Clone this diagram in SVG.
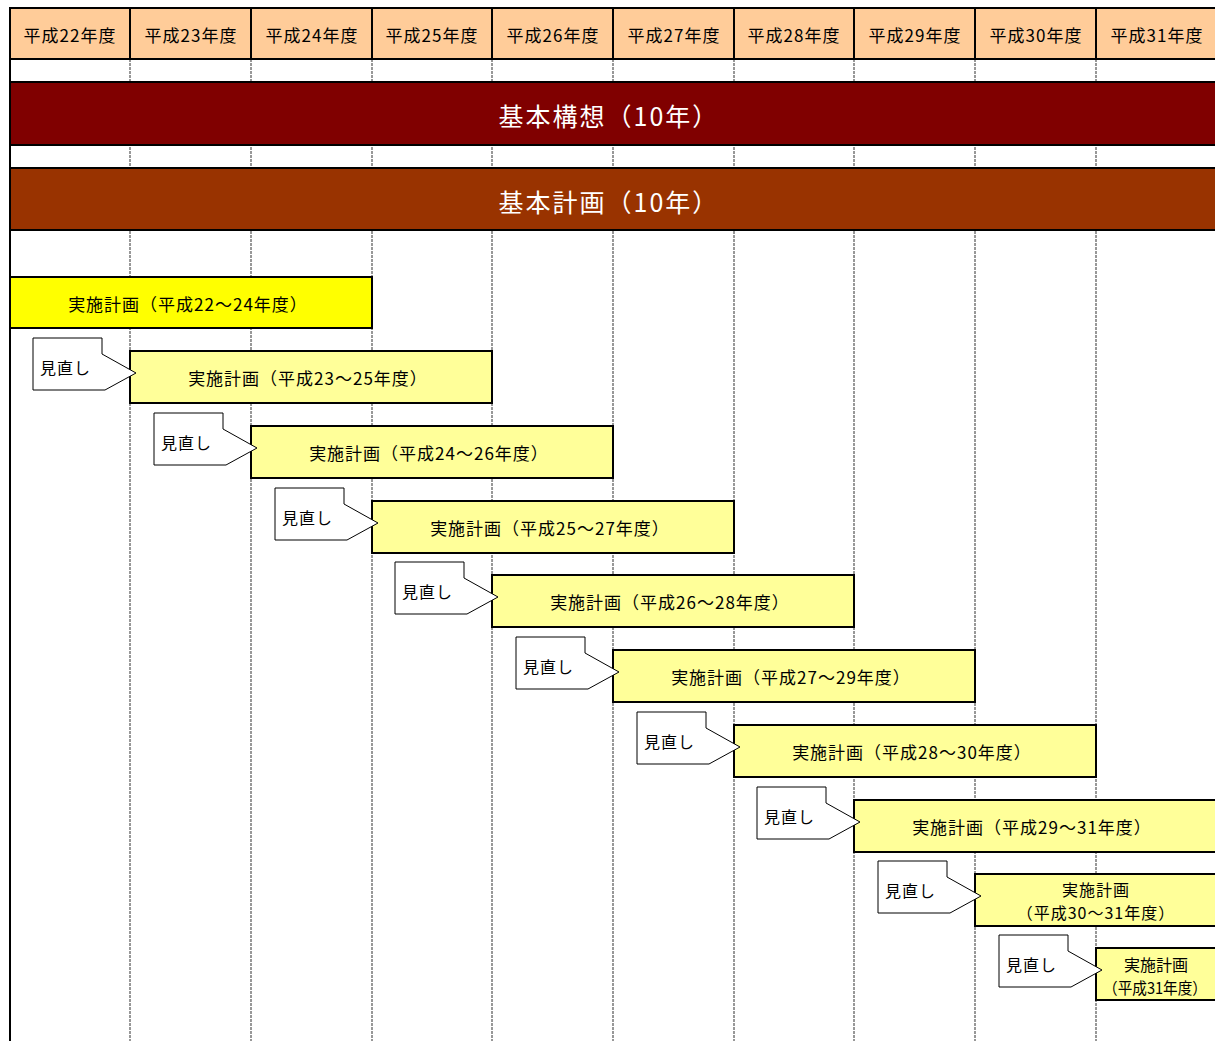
<svg xmlns="http://www.w3.org/2000/svg" xmlns:xlink="http://www.w3.org/1999/xlink" width="1215" height="1041" viewBox="0 0 1215 1041">
<style>
text{font-family:"Noto Sans CJK JP","Noto Sans",sans-serif;dominant-baseline:central;text-anchor:middle;fill:#000}
.hd{font-size:17px;letter-spacing:1px}
.band{font-size:25px;letter-spacing:2px;fill:#fff}
.bt{font-size:17px;letter-spacing:1px}
.bs{font-size:16px}
.mn{font-size:16px;letter-spacing:1px;text-anchor:start}
.hcell{fill:#FFCC99;stroke:#000;stroke-width:2}
.grid{stroke:#7f7f7f;stroke-width:1.6;stroke-dasharray:3 1}
.plan{fill:#FFFF99;stroke:#000;stroke-width:2}
.co{fill:#fff;stroke:#000;stroke-width:1}
</style>
<defs>
<path id="callout" d="M-97,-13 H-28 V3 L6,22 L-25,39 H-97 Z"/>
</defs>
<rect width="1215" height="1041" fill="#fff"/>
<g id="grid">
<line class="grid" x1="130" y1="59" x2="130" y2="1041"/>
<line class="grid" x1="251" y1="59" x2="251" y2="1041"/>
<line class="grid" x1="372" y1="59" x2="372" y2="1041"/>
<line class="grid" x1="492" y1="59" x2="492" y2="1041"/>
<line class="grid" x1="613" y1="59" x2="613" y2="1041"/>
<line class="grid" x1="734" y1="59" x2="734" y2="1041"/>
<line class="grid" x1="854" y1="59" x2="854" y2="1041"/>
<line class="grid" x1="975" y1="59" x2="975" y2="1041"/>
<line class="grid" x1="1096" y1="59" x2="1096" y2="1041"/>
<line x1="10" y1="7" x2="10" y2="1041" stroke="#000" stroke-width="2"/>
</g>
<g id="header">
<rect class="hcell" x="10" y="8" width="120" height="51"/><text class="hd" x="70" y="34">平成22年度</text>
<rect class="hcell" x="130" y="8" width="121" height="51"/><text class="hd" x="191" y="34">平成23年度</text>
<rect class="hcell" x="251" y="8" width="121" height="51"/><text class="hd" x="312" y="34">平成24年度</text>
<rect class="hcell" x="372" y="8" width="120" height="51"/><text class="hd" x="432" y="34">平成25年度</text>
<rect class="hcell" x="492" y="8" width="121" height="51"/><text class="hd" x="553" y="34">平成26年度</text>
<rect class="hcell" x="613" y="8" width="121" height="51"/><text class="hd" x="674" y="34">平成27年度</text>
<rect class="hcell" x="734" y="8" width="120" height="51"/><text class="hd" x="794" y="34">平成28年度</text>
<rect class="hcell" x="854" y="8" width="121" height="51"/><text class="hd" x="915" y="34">平成29年度</text>
<rect class="hcell" x="975" y="8" width="121" height="51"/><text class="hd" x="1036" y="34">平成30年度</text>
<rect class="hcell" x="1096" y="8" width="125" height="51"/><text class="hd" x="1157" y="34">平成31年度</text>
</g>
<g id="kihon-koso">
<rect x="10" y="82" width="1212" height="63" fill="#800000" stroke="#000" stroke-width="2"/>
<text class="band" x="609" y="115">基本構想（10年）</text>
</g>
<g id="kihon-keikaku">
<rect x="10" y="168" width="1212" height="62" fill="#993300" stroke="#000" stroke-width="2"/>
<text class="band" x="609" y="201">基本計画（10年）</text>
</g>
<g id="plan-22-24">
<rect x="10" y="277" width="362" height="51" fill="#FFFF00" stroke="#000" stroke-width="2"/>
<text class="bt" x="188" y="303">実施計画（平成22～24年度）</text>
</g>
<g id="plan-23-25" transform="translate(130,351)">
<rect class="plan" x="0" y="0" width="362" height="52"/>
<text class="bt" x="178" y="26">実施計画（平成23～25年度）</text>
<use href="#callout" xlink:href="#callout" class="co"/>
<text class="mn" x="-90" y="16">見直し</text>
</g>
<g id="plan-24-26" transform="translate(251,426)">
<rect class="plan" x="0" y="0" width="362" height="52"/>
<text class="bt" x="178" y="26">実施計画（平成24～26年度）</text>
<use href="#callout" xlink:href="#callout" class="co"/>
<text class="mn" x="-90" y="16">見直し</text>
</g>
<g id="plan-25-27" transform="translate(372,501)">
<rect class="plan" x="0" y="0" width="362" height="52"/>
<text class="bt" x="178" y="26">実施計画（平成25～27年度）</text>
<use href="#callout" xlink:href="#callout" class="co"/>
<text class="mn" x="-90" y="16">見直し</text>
</g>
<g id="plan-26-28" transform="translate(492,575)">
<rect class="plan" x="0" y="0" width="362" height="52"/>
<text class="bt" x="178" y="26">実施計画（平成26～28年度）</text>
<use href="#callout" xlink:href="#callout" class="co"/>
<text class="mn" x="-90" y="16">見直し</text>
</g>
<g id="plan-27-29" transform="translate(613,650)">
<rect class="plan" x="0" y="0" width="362" height="52"/>
<text class="bt" x="178" y="26">実施計画（平成27～29年度）</text>
<use href="#callout" xlink:href="#callout" class="co"/>
<text class="mn" x="-90" y="16">見直し</text>
</g>
<g id="plan-28-30" transform="translate(734,725)">
<rect class="plan" x="0" y="0" width="362" height="52"/>
<text class="bt" x="178" y="26">実施計画（平成28～30年度）</text>
<use href="#callout" xlink:href="#callout" class="co"/>
<text class="mn" x="-90" y="16">見直し</text>
</g>
<g id="plan-29-31" transform="translate(854,800)">
<rect class="plan" x="0" y="0" width="370" height="52"/>
<text class="bt" x="178" y="26">実施計画（平成29～31年度）</text>
<use href="#callout" xlink:href="#callout" class="co"/>
<text class="mn" x="-90" y="16">見直し</text>
</g>
<g id="plan-30-31" transform="translate(975,874)">
<rect class="plan" x="0" y="0" width="250" height="52"/>
<text class="bs" x="121" y="15" letter-spacing="1">実施計画</text>
<text class="bs" x="121" y="38" letter-spacing="1">（平成30～31年度）</text>
<use href="#callout" xlink:href="#callout" class="co"/>
<text class="mn" x="-90" y="16">見直し</text>
</g>
<g id="plan-31" transform="translate(1096,948)">
<rect class="plan" x="0" y="0" width="130" height="52"/>
<text class="bs" x="60" y="16">実施計画</text>
<text class="bs" x="59" y="39" textLength="104" lengthAdjust="spacingAndGlyphs">（平成31年度）</text>
<use href="#callout" xlink:href="#callout" class="co"/>
<text class="mn" x="-90" y="16">見直し</text>
</g>
</svg>
